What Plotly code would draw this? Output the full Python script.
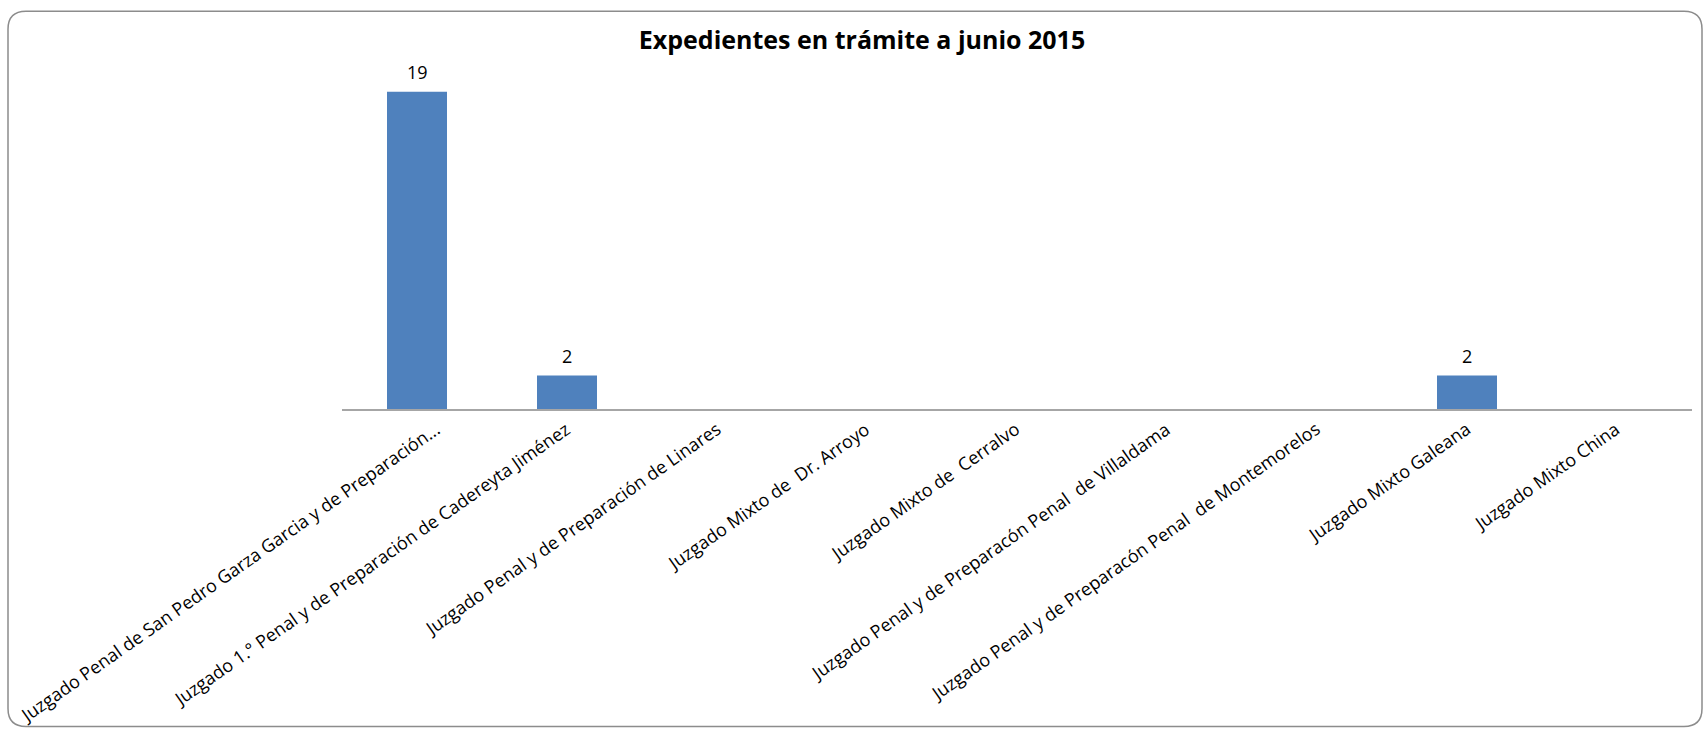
import plotly.graph_objects as go

categories = [
    "Juzgado Penal de San Pedro Garza Garcia y de Preparación...",
    "Juzgado 1.° Penal y de Preparación de Cadereyta Jiménez",
    "Juzgado Penal y de Preparación de Linares",
    "Juzgado Mixto de\u00a0 Dr. Arroyo",
    "Juzgado Mixto de\u00a0 Cerralvo",
    "Juzgado Penal y de Preparacón Penal\u00a0 de Villaldama",
    "Juzgado Penal y de Preparacón Penal\u00a0 de Montemorelos",
    "Juzgado Mixto Galeana",
    "Juzgado Mixto China",
]
values = [19, 2, 0, 0, 0, 0, 0, 2, 0]
title_text = "Expedientes en trámite a junio 2015"

W, H = 1703, 730
L, R = 342, 1692
T, B = 74.5, 409.5
FONT = "Open Sans"

fig = go.Figure()
fig.add_trace(go.Bar(
    x=categories, y=values,
    marker=dict(color="#4F81BD", line=dict(width=0)),
    hoverinfo="x+y",
))

# data labels (only non-zero values, as in the reference)
for c, v in zip(categories, values):
    if v:
        fig.add_annotation(x=c, y=v, text=str(v), showarrow=False,
                           yanchor="bottom", yshift=6,
                           font=dict(family=FONT, size=18, color="#000000"))

# rotated category labels; the first one is nudged right to stay inside the chart area
for i, c in enumerate(categories):
    fig.add_annotation(x=c, y=0, text=c, showarrow=False, textangle=-35,
                       xanchor="right", yanchor="top", yshift=-5,
                       xshift=30 if i == 0 else 10,
                       font=dict(family=FONT, size=18, color="#000000"))

# rounded chart-area border (in paper coords)
pw, ph = R - L, B - T
def px(xp):
    return (xp - L) / pw
def py(yp):
    return (B - yp) / ph
x0, x1, y0, y1, r = 8, 1702, 10.5, 728, 18
path = (f"M {px(x0 + r)},{py(y0)} L {px(x1 - r)},{py(y0)} "
        f"Q {px(x1)},{py(y0)} {px(x1)},{py(y0 + r)} "
        f"L {px(x1)},{py(y1 - r)} Q {px(x1)},{py(y1)} {px(x1 - r)},{py(y1)} "
        f"L {px(x0 + r)},{py(y1)} Q {px(x0)},{py(y1)} {px(x0)},{py(y1 - r)} "
        f"L {px(x0)},{py(y0 + r)} Q {px(x0)},{py(y0)} {px(x0 + r)},{py(y0)} Z")
fig.add_shape(type="path", xref="paper", yref="paper", path=path,
              line=dict(color="#8C8C8C", width=1.5), layer="below")

fig.update_layout(
    width=W, height=H,
    autosize=False,
    margin=dict(l=L, r=W - R, t=T, b=H - B, pad=0, autoexpand=False),
    paper_bgcolor="white", plot_bgcolor="white",
    bargap=0.6,
    showlegend=False,
    title=dict(text=f"<b>{title_text}</b>", xref="container", yref="container",
               x=862 / W, y=1 - 40 / H, xanchor="center", yanchor="middle",
               font=dict(family=FONT, size=25, color="#000000")),
    xaxis=dict(showline=True, linecolor="#A6A6A6", linewidth=1.5,
               type="category", categoryorder="array", categoryarray=categories,
               range=[-0.5, len(categories) - 0.5], autorange=False,
               ticks="", showticklabels=False, showgrid=False, automargin=False),
    yaxis=dict(visible=False, range=[0, 20], autorange=False,
               showgrid=False, zeroline=False, automargin=False),
)

fig.write_html("out.html",
               config={"displayModeBar": False},
               post_script="document.body.style.margin='0';document.body.style.overflow='hidden';")
